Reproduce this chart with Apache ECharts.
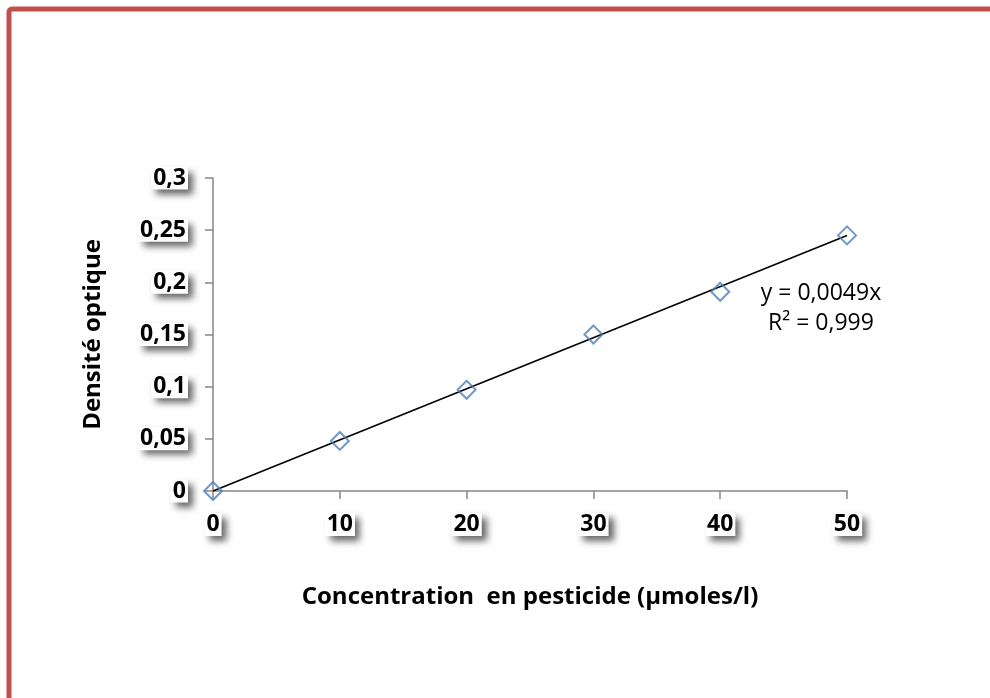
<!DOCTYPE html>
<html>
<head>
<meta charset="utf-8">
<script src="https://cdn.jsdelivr.net/npm/echarts@6/dist/echarts.min.js"></script>
<style>
  html, body { margin: 0; padding: 0; background: #fff; }
  #chart { width: 990px; height: 698px; }
</style>
</head>
<body>
<div id="chart"></div>
<script>
// Calibration data: pesticide concentration (µmoles/l) vs optical density
const concentrations = [0, 10, 20, 30, 40, 50];
const densities = [0, 0.048, 0.097, 0.150, 0.191, 0.245];
const yTicks = [0, 0.05, 0.1, 0.15, 0.2, 0.25, 0.3];
const xTicks = [0, 10, 20, 30, 40, 50];
// Linear fit through origin
const slope = 0.0049;
const rSquared = '0,999';

const FONT = '"Open Sans", "Noto Sans", sans-serif';
const fmt = v => String(v).replace('.', ',');

const boxLabel = {
  fontFamily: FONT,
  fontWeight: 'bold',
  fontSize: 23,
  color: '#000',
  backgroundColor: '#fff',
  padding: [0, 2, 0, 2],
  shadowColor: 'rgba(0,0,0,0.6)',
  shadowBlur: 7,
  shadowOffsetX: 5,
  shadowOffsetY: 5
};

const titleStyle = {
  fontFamily: FONT,
  fontWeight: 'bold',
  fontSize: 24,
  color: '#000'
};

const chart = echarts.init(document.getElementById('chart'));
chart.setOption({
  backgroundColor: '#fff',
  animation: false,
  grid: { left: 213, right: 143, top: 178, bottom: 207 },
  xAxis: {
    type: 'value',
    min: xTicks[0],
    max: xTicks[xTicks.length - 1],
    interval: 10,
    name: 'Concentration  en pesticide (µmoles/l)',
    nameLocation: 'middle',
    nameGap: 94,
    nameTextStyle: titleStyle,
    axisLine: { show: true, lineStyle: { color: '#868686', width: 1.5 } },
    axisTick: { show: true, length: 8, lineStyle: { color: '#868686', width: 1.5 } },
    axisLabel: Object.assign({ margin: 22, formatter: v => fmt(v) }, boxLabel),
    splitLine: { show: false }
  },
  yAxis: {
    type: 'value',
    min: yTicks[0],
    max: yTicks[yTicks.length - 1],
    interval: 0.05,
    name: 'Densité optique',
    nameLocation: 'middle',
    nameGap: 108,
    nameRotate: 90,
    nameTextStyle: titleStyle,
    axisLine: { show: true, lineStyle: { color: '#868686', width: 1.5 } },
    axisTick: { show: true, length: 8, lineStyle: { color: '#868686', width: 1.5 } },
    axisLabel: Object.assign({ margin: 25, formatter: v => fmt(+v.toFixed(2)) }, boxLabel),
    splitLine: { show: false }
  },
  series: [
    {
      name: 'trend',
      type: 'line',
      data: [
        [concentrations[0], slope * concentrations[0]],
        [concentrations[concentrations.length - 1], slope * concentrations[concentrations.length - 1]]
      ],
      symbol: 'none',
      lineStyle: { color: '#000', width: 1.6 },
      z: 3
    },
    {
      name: 'mesures',
      type: 'scatter',
      data: concentrations.map((c, i) => [c, densities[i]]),
      symbol: 'diamond',
      symbolSize: [18, 18],
      itemStyle: { color: 'rgba(255,255,255,0)', borderColor: '#4a7ebb', borderWidth: 2 },
      z: 4
    }
  ],
  graphic: [
    {
      type: 'rect',
      shape: { x: 9, y: 9, width: 1100, height: 800, r: 3 },
      style: { fill: 'none', stroke: '#c0504d', lineWidth: 5 },
      silent: true
    },
    {
      type: 'text',
      x: 821,
      y: 293,
      style: {
        text: 'y = ' + fmt(slope) + 'x',
        fontFamily: FONT,
        fontSize: 23,
        fill: '#000',
        align: 'center',
        verticalAlign: 'middle'
      }
    },
    {
      type: 'text',
      x: 821,
      y: 323,
      style: {
        text: 'R² = ' + rSquared,
        fontFamily: FONT,
        fontSize: 23,
        fill: '#000',
        align: 'center',
        verticalAlign: 'middle'
      }
    }
  ]
});
</script>
</body>
</html>
